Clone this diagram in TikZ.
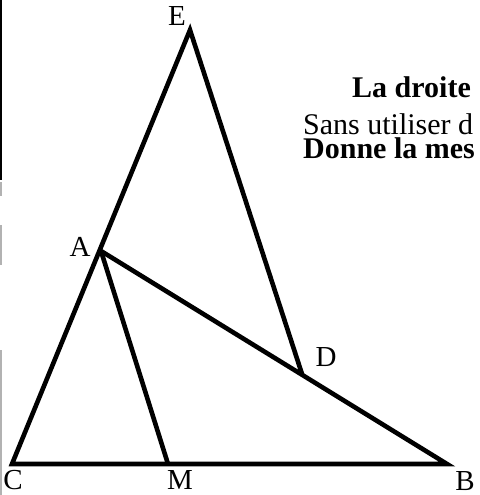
\documentclass[tikz,border=0pt]{standalone}
\usepackage{fontspec}
\setmainfont{Liberation Serif}
\begin{document}
\begin{tikzpicture}[x=1pt,y=-1pt,
  seg/.style={line width=4.6pt,line join=miter,line cap=butt},
  ptlabel/.style={font=\fontsize{29}{29}\selectfont,inner sep=0pt},
  txt/.style={anchor=base west,inner sep=0pt,font=\fontsize{30}{30}\selectfont}]
\useasboundingbox (0,0) rectangle (479,495);
\clip (0,0) rectangle (479,495);
% scan edge
\draw[line width=1.6pt] (0.8,0) -- (0.8,180);
\draw[line width=1.4pt,gray!60] (0.8,182) -- (0.8,196);
\draw[line width=1.4pt,gray!60] (0.8,225) -- (0.8,265);
\draw[line width=1.4pt,gray!60] (0.8,350) -- (0.8,495);
% points
\coordinate (E) at (190,30);
\coordinate (A) at (101,251);
\coordinate (C) at (12,464);
\coordinate (M) at (168,464);
\coordinate (B) at (447,464);
\coordinate (D) at (302,374);
% segments
\draw[seg] (A) -- (B) -- (C) -- (E) -- (D);
\draw[seg] (A) -- (M);
% labels
\node[ptlabel] (lE) at (177,16) {E};
\node[ptlabel] (lA) at (80,247) {A};
\node[ptlabel] (lD) at (326,357) {D};
\node[ptlabel] (lC) at (13,480) {C};
\node[ptlabel] (lM) at (180,480) {M};
\node[ptlabel] (lB) at (465,481) {B};
% text
\node[txt,font=\fontsize{30}{30}\selectfont\bfseries] (t1) at (352,97) {La droite};
\node[txt,text depth=0pt] (t2) at (303,134) {Sans utiliser d};
\node[txt,text height=20pt,font=\fontsize{30}{30}\selectfont\bfseries] (t3) at (303,158) {Donne la mes};
\end{tikzpicture}
\end{document}
